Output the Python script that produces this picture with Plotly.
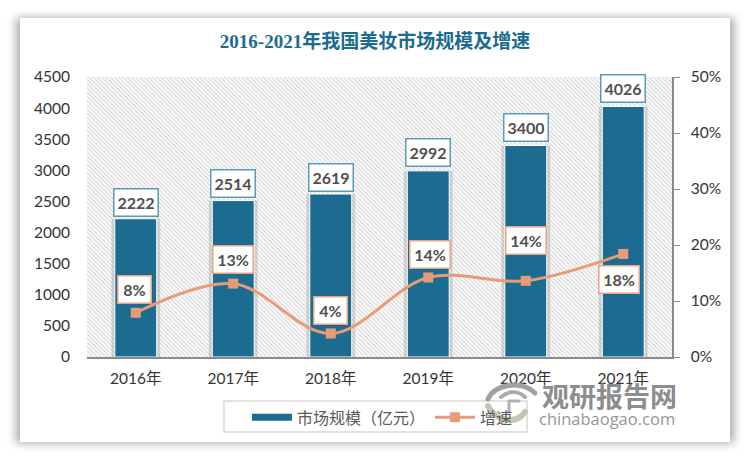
import base64

import plotly.graph_objects as go

years = ["2016年", "2017年", "2018年", "2019年", "2020年", "2021年"]
market_size = [2222, 2514, 2619, 2992, 3400, 4026]
growth_rate = [7.9, 13.1, 4.2, 14.2, 13.6, 18.4]
growth_labels = ["8%", "13%", "4%", "14%", "14%", "18%"]
left_ticks = [0, 500, 1000, 1500, 2000, 2500, 3000, 3500, 4000, 4500]
right_ticks = [0, 10, 20, 30, 40, 50]
right_tick_labels = ["0%", "10%", "20%", "30%", "40%", "50%"]

WIDTH, HEIGHT = 750, 460
LEFT, RIGHT, TOP, BOTTOM = 87, 78, 77, 103
PLOT_W = WIDTH - LEFT - RIGHT
PLOT_H = HEIGHT - TOP - BOTTOM

BLUE = "#1b6c90"
ORANGE = "#e89b78"
LATIN_CJK = "Lato, 'Noto Sans CJK SC', sans-serif"
SERIF_CJK = "'Liberation Serif', 'Noto Sans CJK SC', serif"

# nudges of the label boxes, pixels from the mark they belong to
bar_label_dx = [0, 0, 0, 0, 0, 0]
bar_label_dy = [16, 17, 17, 18, 18, 18]
line_label_dx = [-1, 0, 0, 2, 0, -4]
line_label_dy = [23, 24, 23, 23, 40, -26]


def svg_uri(svg):
    return "data:image/svg+xml;base64," + base64.b64encode(svg.encode("utf-8")).decode("ascii")


def page_image(source, x, y, w, h, layer):
    # place an image by page pixels, converted to paper coordinates
    return dict(
        source=source, xref="paper", yref="paper", layer=layer,
        x=(x - LEFT) / PLOT_W, y=1 - (y - TOP) / PLOT_H,
        sizex=w / PLOT_W, sizey=h / PLOT_H,
        xanchor="left", yanchor="top", sizing="stretch",
    )


background_svg = f"""<svg xmlns="http://www.w3.org/2000/svg" width="{WIDTH}" height="{HEIGHT}" viewBox="0 0 {WIDTH} {HEIGHT}">
<defs>
<filter id="s" x="-5%" y="-5%" width="110%" height="110%"><feGaussianBlur stdDeviation="5"/></filter>
<pattern id="h" width="3" height="3" patternUnits="userSpaceOnUse" patternTransform="rotate(45)">
<rect width="3" height="3" fill="#ffffff"/><rect width="3" height="1.3" fill="#d8d8d8"/>
</pattern>
</defs>
<rect width="{WIDTH}" height="{HEIGHT}" fill="#ffffff"/>
<rect x="16" y="18" width="718" height="425" fill="#a8a8a8" filter="url(#s)"/>
<rect x="20" y="18" width="710" height="424" fill="#ffffff"/>
<rect x="{LEFT}" y="{TOP}" width="{PLOT_W}" height="{PLOT_H}" fill="url(#h)"/>
<rect x="224" y="401" width="303" height="31" fill="#ffffff" stroke="#d9d9d9" stroke-width="1.5"/>
</svg>"""

logo_svg = """<svg xmlns="http://www.w3.org/2000/svg" width="52" height="42" viewBox="0 0 52 42">
<g fill="none" stroke-linecap="round">
<path d="M3 17 C10 2 36 -2 50 11" stroke="#a0a0a0" stroke-width="5"/>
<path d="M16 15 C24 8 34 9 40 15" stroke="#aaaaaa" stroke-width="4"/>
<path d="M3 24 C10 38 30 44 40 30" stroke="#c8c3b6" stroke-width="6"/>
<path d="M24 19 L24 30 M24 19 L34 19" stroke="#b0b0b0" stroke-width="3"/>
</g></svg>"""

fig = go.Figure()

# soft shadow behind the columns
fig.add_trace(go.Bar(
    x=years, y=market_size, width=0.5, showlegend=False, hoverinfo="skip",
    marker=dict(color="rgba(110,110,110,0.25)", line=dict(width=0)),
))
fig.add_trace(go.Bar(
    x=years, y=market_size, width=0.43, showlegend=False,
    marker=dict(color=BLUE, line=dict(color="#ffffff", width=1)),
))
# legend-only entry so the swatch is a wide flat band
fig.add_trace(go.Scatter(
    x=[None], y=[None], name="市场规模（亿元）", mode="lines",
    line=dict(color=BLUE, width=7),
))
fig.add_trace(go.Scatter(
    x=years, y=growth_rate, name="增速", yaxis="y2", mode="lines+markers",
    line=dict(color=ORANGE, width=3, shape="spline", smoothing=1),
    marker=dict(color=ORANGE, symbol="square", size=10),
))

annotations = []
for year, value, dx, dy in zip(years, market_size, bar_label_dx, bar_label_dy):
    annotations.append(dict(
        x=year, y=value, xref="x", yref="y", xshift=dx, yshift=dy, text=f"<b>{value}</b>",
        showarrow=False, bgcolor="#ffffff", bordercolor="#5b9bb5", borderwidth=1.5, borderpad=3,
        font=dict(family=LATIN_CJK, size=16, color="#505050"), width=37, height=20,
    ))
for year, value, label, dx, dy in zip(years, growth_rate, growth_labels, line_label_dx, line_label_dy):
    annotations.append(dict(
        x=year, y=value, xref="x", yref="y2", xshift=dx, yshift=dy, text=f"<b>{label}</b>",
        showarrow=False, bgcolor="#ffffff", bordercolor="#e9a283", borderwidth=1.5, borderpad=3,
        font=dict(family=LATIN_CJK, size=16, color="#505050"),
        width=26 if len(label) == 2 else 33, height=20,
    ))
annotations.append(dict(
    text="<b>观研报告网</b>", xref="paper", yref="paper", x=1.012, y=-0.062, xanchor="right", yanchor="top",
    showarrow=False, font=dict(family="'Noto Sans CJK SC'", size=27, color="rgba(125,125,125,0.9)"),
))
annotations.append(dict(
    text="chinabaogao.com", xref="paper", yref="paper", x=1.009, y=-0.17, xanchor="right", yanchor="top",
    showarrow=False, font=dict(family="'Open Sans'", size=16.5, color="rgba(135,135,135,0.9)"),
))

fig.update_layout(
    width=WIDTH,
    height=HEIGHT,
    margin=dict(l=LEFT, r=RIGHT, t=TOP, b=BOTTOM, pad=0),
    paper_bgcolor="#ffffff",
    plot_bgcolor="rgba(0,0,0,0)",
    barmode="overlay",
    title=dict(
        text="<b>2016-2021年我国美妆市场规模及增速</b>", x=0.5, xanchor="center", y=0.91, yanchor="middle",
        font=dict(family=SERIF_CJK, size=19, color=BLUE),
    ),
    xaxis=dict(
        type="category", categoryorder="array", categoryarray=years, showgrid=False,
        showline=True, linecolor="#8a8a8a", linewidth=2, ticks="", ticklen=0, ticklabelstandoff=6,
        tickfont=dict(family=LATIN_CJK, size=15.5, color="#333333"),
    ),
    yaxis=dict(
        range=[0, 4500], tickvals=left_ticks, showgrid=False, zeroline=False, showline=False, ticks="",
        ticklabelstandoff=16,
        tickfont=dict(family=LATIN_CJK, size=15.5, color="#333333"),
    ),
    yaxis2=dict(
        overlaying="y", side="right", range=[0, 50], tickvals=right_ticks, ticktext=right_tick_labels,
        showgrid=False, zeroline=False, showline=True, linecolor="#8a8a8a", linewidth=1.5,
        ticks="outside", ticklen=6, tickcolor="#8a8a8a", ticklabelstandoff=8,
        tickfont=dict(family=LATIN_CJK, size=15.5, color="#333333"),
    ),
    legend=dict(
        orientation="h", x=0.505, xanchor="center", y=-0.155, yanchor="top",
        bgcolor="rgba(0,0,0,0)", borderwidth=0,
        font=dict(family=SERIF_CJK, size=16, color="#595959"), itemwidth=40,
    ),
    images=[
        page_image(svg_uri(background_svg), 0, 0, WIDTH, HEIGHT, "below"),
        page_image(svg_uri(logo_svg), 485, 382, 52, 42, "above"),
    ],
    annotations=annotations,
)

# the page's default body margin would push the figure 8px off
fig.write_html("out.html", config={"displayModeBar": False}, post_script="document.body.style.margin='0';")
